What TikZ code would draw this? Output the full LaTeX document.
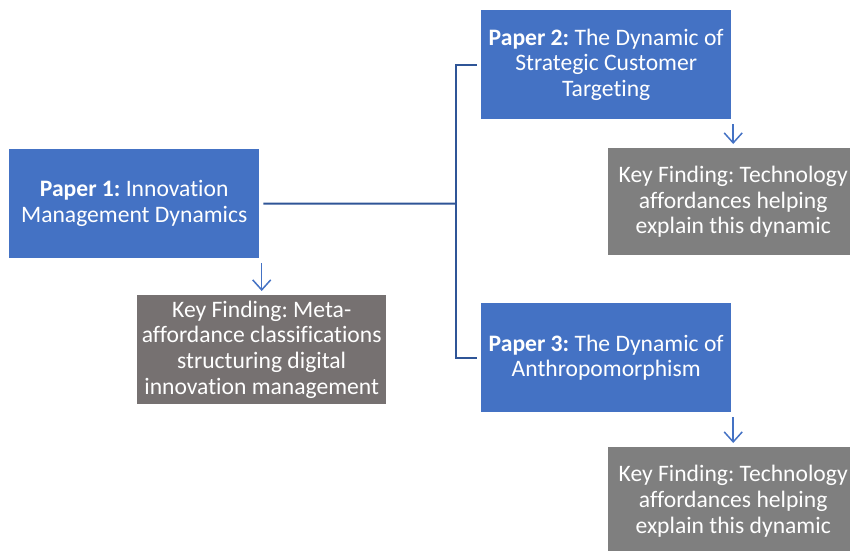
\documentclass[tikz,border=0pt]{standalone}
\usepackage{fontspec}
\setmainfont{Carlito}[Ligatures={NoCommon}]
\usetikzlibrary{arrows.meta}
\definecolor{paperblue}{HTML}{4472C4}
\definecolor{connblue}{HTML}{2F5597}
\definecolor{keygrayA}{HTML}{767171}
\definecolor{keygrayB}{HTML}{7F7F7F}
\frenchspacing
\begin{document}
\begin{tikzpicture}[x=1pt,y=-1pt,
  box/.style={draw=none, text=white, align=center, inner sep=0pt,
    minimum width=250pt, minimum height=109pt, anchor=north west,
    font=\fontsize{23.6pt}{25.8pt}\selectfont},
  paper/.style={box, fill=paperblue},
  conn/.style={draw=connblue, line width=2pt},
  arr/.style={draw=paperblue, line width=1.5pt, -{Straight Barb[length=10pt,width=18pt]}}]
\useasboundingbox (0,0) rectangle (850,550);
\clip (0,0) rectangle (850,550);
\node[paper] (p1) at (9,149) {\textbf{Paper 1:} Innovation\\Management Dynamics};
\node[paper] (p2) at (481,10) {\textbf{Paper 2:} The Dynamic of\\Strategic Customer\\Targeting};
\node[paper] (p3) at (481,303) {\textbf{Paper 3:} The Dynamic of\\Anthropomorphism};
\node[box, fill=keygrayA, minimum width=249pt] (k1) at (137,295) {Key Finding: Meta-\\affordance classifications\\structuring digital\\innovation management};
\node[box, fill=keygrayB, minimum height=107pt] (k2) at (608,148) {Key Finding: Technology\\affordances helping\\explain this dynamic};
\node[box, fill=keygrayB, minimum height=108pt] (k3) at (608,447) {Key Finding: Technology\\affordances helping\\explain this dynamic};
\coordinate (j) at (456,203.5);
\draw[conn, shorten <=4pt] (p1.east) -- (j);
\draw[conn, shorten >=4pt] (j) |- (p2.west);
\draw[conn, shorten >=4pt] (j) |- (p3.west);
\draw[arr, shorten <=5pt, shorten >=4pt] (p1.south -| k1.north) -- (k1.north);
\draw[arr, shorten <=5pt, shorten >=4pt] (p2.south -| k2.north) -- (k2.north);
\draw[arr, shorten <=5pt, shorten >=4pt] (p3.south -| k3.north) -- (k3.north);
\end{tikzpicture}
\end{document}
